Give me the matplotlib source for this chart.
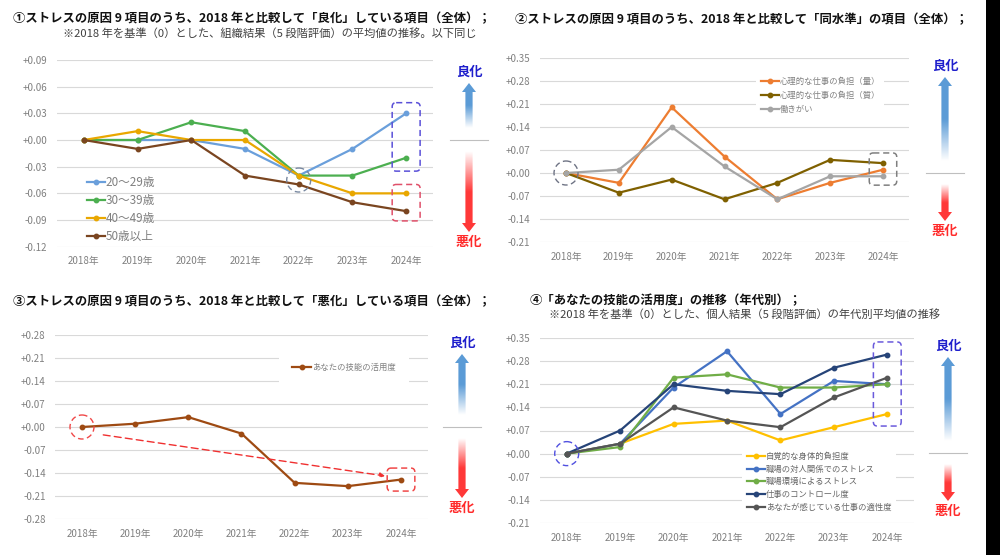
import numpy as np
import matplotlib

matplotlib.use("Agg")
import matplotlib.pyplot as plt
from matplotlib.patches import Ellipse, FancyBboxPatch, Polygon, Rectangle

plt.rcParams["font.family"] = ["Noto Sans CJK JP", "DejaVu Sans"]

W, H = 1000, 555

years = ["2018年", "2019年", "2020年", "2021年", "2022年", "2023年", "2024年"]

# ① 良化している項目（年代別）
p1_labels = ["20～29歳", "30～39歳", "40～49歳", "50歳以上"]
p1_20s = [0.00, 0.00, 0.00, -0.01, -0.04, -0.01, 0.03]
p1_30s = [0.00, 0.00, 0.02, 0.01, -0.04, -0.04, -0.02]
p1_40s = [0.00, 0.01, 0.00, 0.00, -0.04, -0.06, -0.06]
p1_50s = [0.00, -0.01, 0.00, -0.04, -0.05, -0.07, -0.08]
p1_colors = ["#6A9FDB", "#4CAF50", "#E9A700", "#7A4520"]
p1_ticks = [-0.12, -0.09, -0.06, -0.03, 0.00, 0.03, 0.06, 0.09]

# ② 同水準の項目
p2_labels = ["心理的な仕事の負担（量）", "心理的な仕事の負担（質）", "働きがい"]
p2_quantity = [0.00, -0.03, 0.20, 0.05, -0.08, -0.03, 0.01]
p2_quality = [0.00, -0.06, -0.02, -0.08, -0.03, 0.04, 0.03]
p2_worth = [0.00, 0.01, 0.14, 0.02, -0.08, -0.01, -0.01]
p2_colors = ["#ED7D31", "#7F6000", "#A5A5A5"]
p2_ticks = [-0.21, -0.14, -0.07, 0.00, 0.07, 0.14, 0.21, 0.28, 0.35]

# ③ 悪化している項目
p3_label = "あなたの技能の活用度"
p3_skill = [0.00, 0.01, 0.03, -0.02, -0.17, -0.18, -0.16]
p3_color = "#9E4A12"
p3_ticks = [-0.28, -0.21, -0.14, -0.07, 0.00, 0.07, 0.14, 0.21, 0.28]

# ④ 技能の活用度が伸びている層の項目
p4_labels = ["自覚的な身体的負担度", "職場の対人関係でのストレス", "職場環境によるストレス",
             "仕事のコントロール度", "あなたが感じている仕事の適性度"]
p4_physical = [0.00, 0.03, 0.09, 0.10, 0.04, 0.08, 0.12]
p4_relation = [0.00, 0.03, 0.20, 0.31, 0.12, 0.22, 0.21]
p4_environment = [0.00, 0.02, 0.23, 0.24, 0.20, 0.20, 0.21]
p4_control = [0.00, 0.07, 0.21, 0.19, 0.18, 0.26, 0.30]
p4_fit = [0.00, 0.03, 0.14, 0.10, 0.08, 0.17, 0.23]
p4_colors = ["#FFC000", "#4472C4", "#70AD47", "#264478", "#555555"]
p4_ticks = [-0.21, -0.14, -0.07, 0.00, 0.07, 0.14, 0.21, 0.28, 0.35]


def style_axes(ax, ticks):
    ax.set_xlim(-0.5, 6.5)
    ax.set_ylim(ticks[0], ticks[-1])
    ax.set_yticks(ticks)
    ax.set_yticklabels([f"{round(t, 2) + 0.0:+.2f}" for t in ticks])
    ax.set_xticks(range(len(years)))
    ax.set_xticklabels(years)
    ax.tick_params(axis="both", length=0, labelsize=7, labelcolor="#808080")
    ax.tick_params(axis="y", pad=7)
    ax.tick_params(axis="x", pad=7)
    for spine in ax.spines.values():
        spine.set_visible(False)
    ax.grid(axis="y", color="#D9D9D9", lw=0.8)
    ax.set_axisbelow(True)
    ax.patch.set_alpha(0)


def draw_series(ax, values, color, label, lw=1.6):
    ax.plot(range(len(values)), values, color=color, lw=lw, marker="o", ms=3.2, label=label,
            clip_on=False)


def px(ax, x, y):
    dx, dy = ax.transData.transform((x, y))
    return dx, H - dy


def dashed_circle(ov, ax, x, y, color, r=12):
    cx, cy = px(ax, x, y)
    ov.add_patch(Ellipse((cx, cy), 2 * r, 2 * r, fill=False, ec=color, lw=1.0, ls=(0, (4, 2.5))))


def dashed_box(ov, ax, x, y0, y1, color, half=0.26):
    xa, ya = px(ax, x - half, y1)
    xb, yb = px(ax, x + half, y0)
    ov.add_patch(FancyBboxPatch((xa, ya), xb - xa, yb - ya, boxstyle="round,pad=0,rounding_size=4",
                                fill=False, ec=color, lw=1.1, ls=(0, (4, 2.5))))


def grad_arrow(ov, x, y_head, y_tail, rgb, head_len=9, head_w=7, shaft_w=3.6):
    sign = 1 if y_tail > y_head else -1
    y_neck = y_head + sign * head_len
    verts = [(x, y_head), (x + head_w, y_neck), (x + shaft_w, y_neck), (x + shaft_w, y_tail),
             (x - shaft_w, y_tail), (x - shaft_w, y_neck), (x - head_w, y_neck)]
    poly = Polygon(verts, closed=True, fc="none", ec="none")
    ov.add_patch(poly)
    t = np.linspace(0, 1, 120)
    img = np.zeros((120, 1, 4))
    img[..., 0], img[..., 1], img[..., 2] = rgb
    img[:, 0, 3] = np.clip((1 - t) / 0.5, 0, 1)
    top, bottom = min(y_head, y_tail), max(y_head, y_tail)
    if sign < 0:
        img = img[::-1]
    im = ov.imshow(img, extent=(x - head_w, x + head_w, bottom, top), aspect="auto",
                   interpolation="bilinear", zorder=3)
    im.set_clip_path(poly)


def direction_marks(ov, x, y_good, y_bad, y_sep, sep_half=19):
    ov.text(x, y_good, "良化", color="#1F1FCC", fontsize=9.5, fontweight="bold", ha="center", va="center")
    ov.text(x, y_bad, "悪化", color="#FF2B2B", fontsize=9.5, fontweight="bold", ha="center", va="center")
    ov.plot([x - sep_half, x + sep_half], [y_sep, y_sep], color="#BFBFBF", lw=0.8)
    grad_arrow(ov, x, y_good + 11, y_sep - 12, (0.36, 0.61, 0.84))
    grad_arrow(ov, x, y_bad - 10, y_sep + 11, (1.0, 0.22, 0.22))


fig = plt.figure(figsize=(W / 100, H / 100), dpi=100)
fig.patch.set_facecolor("white")

ax1 = fig.add_axes([57 / W, 1 - 246.7 / H, 376 / W, 186.7 / H])
ax2 = fig.add_axes([539.6 / W, 1 - 242 / H, 369.8 / W, 184 / H])
ax3 = fig.add_axes([55.4 / W, 1 - 519 / H, 372.2 / W, 184 / H])
ax4 = fig.add_axes([540 / W, 1 - 523 / H, 374 / W, 185 / H])

for ax, ticks in [(ax1, p1_ticks), (ax2, p2_ticks), (ax3, p3_ticks), (ax4, p4_ticks)]:
    style_axes(ax, ticks)

for vals, color, label in zip([p1_20s, p1_30s, p1_40s, p1_50s], p1_colors, p1_labels):
    draw_series(ax1, vals, color, label)
leg = ax1.legend(loc="upper left", bbox_to_anchor=(0.065, 0.41), fontsize=8.4, frameon=False,
                 handlelength=1.5, handletextpad=0.1, labelspacing=0.42, borderpad=0)
for txt in leg.get_texts():
    txt.set_color("#808080")

for vals, color, label in zip([p2_quantity, p2_quality, p2_worth], p2_colors, p2_labels):
    draw_series(ax2, vals, color, label)
leg = ax2.legend(loc="upper left", bbox_to_anchor=(0.575, 0.94), fontsize=6, frameon=True,
                 facecolor="white", edgecolor="none", framealpha=1, fancybox=False,
                 handlelength=2.2, handletextpad=0.1, labelspacing=0.55, borderpad=0.5)
for txt in leg.get_texts():
    txt.set_color("#808080")

draw_series(ax3, p3_skill, p3_color, p3_label)
leg = ax3.legend(loc="upper left", bbox_to_anchor=(0.59, 0.945), fontsize=6, frameon=True,
                 facecolor="white", edgecolor="none", framealpha=1, fancybox=False,
                 handlelength=2.2, handletextpad=0.1, borderpad=1.6)
for txt in leg.get_texts():
    txt.set_color("#808080")

for vals, color, label in zip([p4_physical, p4_relation, p4_environment, p4_control, p4_fit],
                              p4_colors, p4_labels):
    draw_series(ax4, vals, color, label)
leg = ax4.legend(loc="upper left", bbox_to_anchor=(0.53, 0.43), fontsize=6, frameon=True,
                 facecolor="white", edgecolor="none", framealpha=1, fancybox=False,
                 handlelength=2.2, handletextpad=0.1, labelspacing=0.45, borderpad=0.5)
for txt in leg.get_texts():
    txt.set_color("#666666")

# overlay in pixel coordinates for titles, arrows and dashed marks
ov = fig.add_axes([0, 0, 1, 1], zorder=10)
ov.set_xlim(0, W)
ov.set_ylim(H, 0)
ov.axis("off")
ov.patch.set_alpha(0)

title_kw = dict(fontsize=8.9, fontweight="bold", ha="left", va="center", color="#111111")
sub_kw = dict(fontsize=8.1, ha="left", va="center", color="#404040")
ov.text(13, 19, "①ストレスの原因 9 項目のうち、2018 年と比較して「良化」している項目（全体）；", **title_kw)
ov.text(63, 34, "※2018 年を基準（0）とした、組織結果（5 段階評価）の平均値の推移。以下同じ", **sub_kw)
ov.text(515, 20, "②ストレスの原因 9 項目のうち、2018 年と比較して「同水準」の項目（全体）；", **title_kw)
ov.text(13, 302, "③ストレスの原因 9 項目のうち、2018 年と比較して「悪化」している項目（全体）；", **title_kw)
ov.text(530, 301, "④「あなたの技能の活用度」の推移（年代別）；", **title_kw)
ov.text(549, 315, "※2018 年を基準（0）とした、個人結果（5 段階評価）の年代別平均値の推移", **sub_kw)

direction_marks(ov, 469, 72, 242, 140)
direction_marks(ov, 945, 66, 231, 173)
direction_marks(ov, 462, 343, 508, 427)
direction_marks(ov, 948, 346, 511, 453)

# dashed highlights
dashed_circle(ov, ax1, 4, -0.045, "#7888A0")
dashed_box(ov, ax1, 6, -0.035, 0.042, "#5A50D8")
dashed_box(ov, ax1, 6, -0.091, -0.05, "#E0506A")

dashed_circle(ov, ax2, 0, 0.0, "#6E7384")
dashed_box(ov, ax2, 6, -0.037, 0.061, "#7F7F7F")

dashed_circle(ov, ax3, 0, 0.0, "#F04848")
dashed_box(ov, ax3, 6, -0.195, -0.125, "#F04848")
ax3.annotate("", xy=(5.7, -0.149), xytext=(0.4, -0.024), annotation_clip=False,
             arrowprops=dict(arrowstyle="-|>", color="#F03030", lw=1.0, ls=(0, (5, 3)),
                             mutation_scale=7, shrinkA=0, shrinkB=0))

dashed_circle(ov, ax4, 0, 0.0, "#5050E0")
dashed_box(ov, ax4, 6, 0.0835, 0.338, "#6A5ADC")

ov.add_patch(Rectangle((986, 0), W - 986, H, fc="black", ec="none"))
ov.set_xlim(0, W)
ov.set_ylim(H, 0)

fig.savefig("out.png", dpi=100, facecolor="white")
